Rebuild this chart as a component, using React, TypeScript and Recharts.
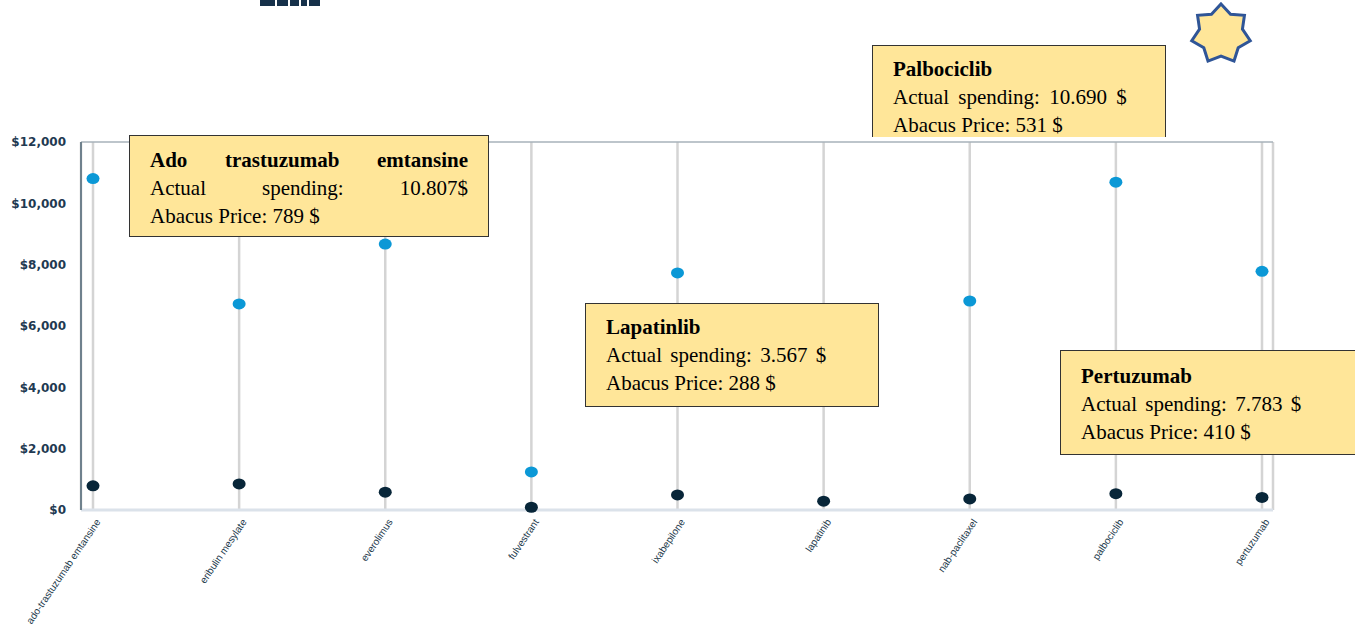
import { LineChart, Line, XAxis, YAxis, CartesianGrid, ReferenceLine } from 'recharts';

// drug list and the two price series (USD)
const drugs = [
  'ado-trastuzumab emtansine',
  'eribulin mesylate',
  'everolimus',
  'fulvestrant',
  'ixabepilone',
  'lapatinib',
  'nab-paclitaxel',
  'palbociclib',
  'pertuzumab',
];
const actualSpending = [10807, 6720, 8670, 1240, 7730, 3567, 6815, 10690, 7783];
const abacusPrice = [789, 850, 580, 90, 490, 288, 360, 531, 410];
const yTicks = [0, 2000, 4000, 6000, 8000, 10000, 12000];

const data = drugs.map((name, i) => ({ name, actual: actualSpending[i], abacus: abacusPrice[i] }));

const BLUE = '#0b98d6';
const NAVY = '#082639';
const NOTE_BG = '#ffe699';
const SERIF = "'Liberation Serif', 'Times New Roman', serif";

// 10807 -> "10.807"
const fmt = (v: number) => v.toLocaleString('de-DE');

const dotFor = (color: string) => (p: any) => (
  <ellipse key={`${color}-${p.index}`} cx={p.cx} cy={p.cy} rx={6.5} ry={5.5} fill={color} />
);

const XTick = ({ x, y, payload }: any) => (
  <g transform={`translate(${x + 5},${y + 2})`}>
    <text
      textAnchor="end"
      transform="rotate(-56)"
      dy="0.35em"
      fontSize={10}
      fill="#22394b"
      fontFamily="'Liberation Sans', Arial, sans-serif"
    >
      {payload.value}
    </text>
  </g>
);

interface NoteProps {
  left: number;
  top: number;
  width: number;
  height: number;
  title: string;
  idx: number;
  justified?: boolean;
  wordSpacing?: number;
  sep?: string;
  padTop?: number;
  openBottom?: boolean;
}

function Note({ left, top, width, height, title, idx, justified, wordSpacing = 3, sep = ' ', padTop = 9, openBottom }: NoteProps) {
  const spend = `Actual spending: ${fmt(actualSpending[idx])}${sep}$`;
  const price = `Abacus Price: ${fmt(abacusPrice[idx])} $`;
  const spread = (s: string) => (
    <div style={{ display: 'flex', justifyContent: 'space-between' }}>
      {s.split(' ').map((w, i) => <span key={i}>{w}</span>)}
    </div>
  );
  return (
    <div
      style={{
        position: 'absolute',
        left,
        top,
        width,
        height,
        boxSizing: 'border-box',
        background: NOTE_BG,
        border: '1.5px solid #333',
        borderBottom: openBottom ? 'none' : '1.5px solid #333',
        padding: `${padTop}px 20px 0 20px`,
        fontFamily: SERIF,
        fontSize: 21,
        lineHeight: '28px',
        color: '#000',
        overflow: 'hidden',
        whiteSpace: 'nowrap',
      }}
    >
      {justified ? (
        <>
          <div style={{ fontWeight: 700 }}>{spread(title)}</div>
          {spread(spend)}
          <div>{price}</div>
        </>
      ) : (
        <>
          <div style={{ fontWeight: 700 }}>{title}</div>
          <div style={{ wordSpacing }}>{spend}</div>
          <div>{price}</div>
        </>
      )}
    </div>
  );
}

// seven-pointed badge
function Star({ cx, cy, r1, r2 }: { cx: number; cy: number; r1: number; r2: number }) {
  const pts: string[] = [];
  for (let i = 0; i < 14; i++) {
    const r = i % 2 === 0 ? r1 : r2;
    const a = -Math.PI / 2 + (i * Math.PI) / 7;
    pts.push(`${cx + r * Math.cos(a)},${cy + r * Math.sin(a)}`);
  }
  return (
    <svg style={{ position: 'absolute', left: 0, top: 0 }} width={1355} height={80}>
      <polygon points={pts.join(' ')} fill={NOTE_BG} stroke="#2f5597" strokeWidth={3} strokeLinejoin="miter" />
    </svg>
  );
}

export default function App() {
  return (
    <div style={{ position: 'fixed', left: 0, top: 0, width: 1355, height: 630, background: '#fff', overflow: 'hidden' }}>
      {/* cropped logo strip */}
      <div style={{ position: 'absolute', left: 260, top: 0, display: 'flex', gap: 2 }}>
        {[15, 11, 9, 6, 11].map((w, i) => (
          <div key={i} style={{ width: w, height: 6, background: '#16314a' }} />
        ))}
      </div>

      <Star cx={1221} cy={34} r1={30} r2={22} />

      <Note left={872} top={45} width={294} height={92} title="Palbociclib" idx={7} wordSpacing={4} openBottom />

      <div style={{ position: 'absolute', left: 0, top: 0 }}>
        <LineChart width={1355} height={630} data={data} margin={{ top: 142, right: 82, bottom: 0, left: 0 }}>
          <CartesianGrid horizontal={false} stroke="#d4d4d4" strokeWidth={2.5} />
          <XAxis
            dataKey="name"
            scale="point"
            padding={{ left: 12, right: 11 }}
            interval={0}
            height={120}
            tickLine={false}
            axisLine={{ stroke: '#dbe2ea', strokeWidth: 3 }}
            tick={<XTick />}
          />
          <YAxis
            domain={[0, 12000]}
            ticks={yTicks}
            width={81}
            tickLine={false}
            tickMargin={9}
            axisLine={{ stroke: '#6f818d', strokeWidth: 2 }}
            tickFormatter={(v: number) => `$${v.toLocaleString('en-US')}`}
            tick={{ fill: '#1f3a52', fontSize: 12, fontWeight: 700, fontFamily: "'DejaVu Sans', sans-serif" }}
          />
          <YAxis
            yAxisId="frame"
            orientation="right"
            domain={[0, 12000]}
            width={0}
            tick={false}
            tickLine={false}
            axisLine={{ stroke: '#5b6b77', strokeWidth: 1.5 }}
          />
          <ReferenceLine y={12000} stroke="#a7b2ba" strokeWidth={1.5} />
          <Line
            dataKey="actual"
            stroke="transparent"
            strokeWidth={0}
            dot={dotFor(BLUE)}
            activeDot={false}
            isAnimationActive={false}
          />
          <Line
            dataKey="abacus"
            stroke="transparent"
            strokeWidth={0}
            dot={dotFor(NAVY)}
            activeDot={false}
            isAnimationActive={false}
          />
        </LineChart>
      </div>

      <Note left={129} top={135} width={360} height={102} title="Ado trastuzumab emtansine" idx={0} sep="" padTop={10} justified />
      <Note left={585} top={303} width={294} height={104} title="Lapatinlib" idx={5} />
      <Note left={1060} top={350} width={296} height={105} title="Pertuzumab" idx={8} padTop={11} />
    </div>
  );
}
